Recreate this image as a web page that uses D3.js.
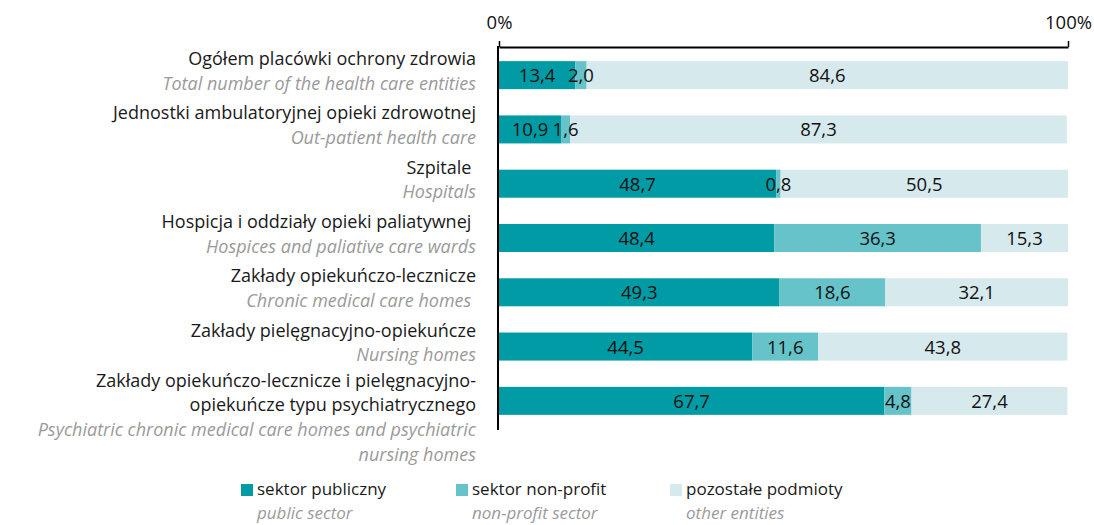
<!DOCTYPE html>
<html lang="pl">
<head>
<meta charset="utf-8">
<title>placówki ochrony zdrowia wg sektora</title>
<script src="https://d3js.org/d3.v7.min.js"></script>
<style>
  body { margin: 0; background: #fff; }
  svg { display: block; font-family: "Open Sans", "Noto Sans", sans-serif; }
  .lab { font-size: 18px; white-space: pre; }
  .pl { fill: #1a1a1a; }
  .en { fill: #9a9a9a; font-style: italic; }
  .val { fill: #111; font-size: 18.5px; }
  .leg { font-size: 17px; }
</style>
</head>
<body>
<script>
// row labels (Polish / English)
const labelsPL = [
  ["Ogółem placówki ochrony zdrowia"],
  ["Jednostki ambulatoryjnej opieki zdrowotnej"],
  ["Szpitale "],
  ["Hospicja i oddziały opieki paliatywnej "],
  ["Zakłady opiekuńczo-lecznicze"],
  ["Zakłady pielęgnacyjno-opiekuńcze"],
  ["Zakłady opiekuńczo-lecznicze i pielęgnacyjno-", "opiekuńcze typu psychiatrycznego"]
];
const labelsEN = [
  ["Total number of the health care entities"],
  ["Out-patient health care"],
  ["Hospitals"],
  ["Hospices and paliative care wards"],
  ["Chronic medical care homes "],
  ["Nursing homes"],
  ["Psychiatric chronic medical care homes and psychiatric", "nursing homes"]
];
const categories = labelsPL.map((d, i) => "c" + i);

// shares in %
const publicSector = [13.4, 10.9, 48.7, 48.4, 49.3, 44.5, 67.7];
const nonProfit    = [2.0, 1.6, 0.8, 36.3, 18.6, 11.6, 4.8];
const otherEnt     = [84.6, 87.3, 50.5, 15.3, 32.1, 43.8, 27.4];

const seriesKeys = ["pub", "np", "oth"];
const seriesPL = ["sektor publiczny", "sektor non-profit", "pozostałe podmioty"];
const seriesEN = ["public sector", "non-profit sector", "other entities"];
const colors = ["#009ba4", "#65c3c9", "#d6e9ed"];
const axisTicks = [0, 100];

const W = 1094, H = 525;
const svg = d3.select("body").append("svg").attr("width", W).attr("height", H);

const x = d3.scaleLinear().domain([0, 100]).range([499, 1068]);
const y = d3.scaleBand().domain(categories).range([48, 428])
  .paddingInner(0.484).paddingOuter(0.242);
const color = d3.scaleOrdinal().domain(seriesKeys).range(colors);

const rows = categories.map((c, i) => ({ cat: c, pub: publicSector[i], np: nonProfit[i], oth: otherEnt[i] }));
const stacked = d3.stack().keys(seriesKeys)(rows);

// bars
const layer = svg.append("g").selectAll("g").data(stacked).join("g")
  .attr("fill", d => color(d.key));
layer.selectAll("rect").data(d => d).join("rect")
  .attr("x", d => x(d[0]))
  .attr("y", d => y(d.data.cat))
  .attr("width", d => x(d[1]) - x(d[0]))
  .attr("height", y.bandwidth());

// values
const fmt = v => d3.format(".1f")(v).replace(".", ",");
const vals = svg.append("g");
stacked.forEach(s => {
  vals.selectAll(null).data(s).join("text")
    .attr("class", "val")
    .attr("text-anchor", "middle")
    .attr("x", d => (x(d[0]) + x(d[1])) / 2)
    .attr("y", d => y(d.data.cat) + y.bandwidth() / 2 + 7)
    .text(d => fmt(d[1] - d[0]));
});

// top axis
const xAxis = d3.axisTop(x).tickValues(axisTicks).tickFormat(d => d + "%")
  .tickSize(6).tickSizeOuter(0).tickPadding(12);
const gx = svg.append("g").attr("transform", "translate(0,47)").call(xAxis);
gx.select(".domain").attr("stroke", "#000").attr("stroke-width", 2);
gx.selectAll(".tick line").attr("stroke", "#000").attr("stroke-width", 1.5);
gx.selectAll(".tick text").attr("font-size", 18.5).attr("font-family", "Open Sans").attr("fill", "#111");

// left axis line
const yAxis = d3.axisLeft(y).tickSize(0).tickFormat("");
const gy = svg.append("g").attr("transform", "translate(498,0)").call(yAxis);
gy.select(".domain").attr("stroke", "#000").attr("stroke-width", 2)
  .attr("d", "M0,46V430");

// category labels: one text per row, lines as tspans
const lab = svg.append("g").attr("text-anchor", "end");
categories.forEach((c, i) => {
  const cy = y(c) + y.bandwidth() / 2;
  const lines = labelsPL[i].map(t => ({ t, cls: "pl" }))
    .concat(labelsEN[i].map(t => ({ t, cls: "en" })));
  const start = lines.length > 2 ? cy - 14 : cy - 10;
  const step = 24.6;
  lab.append("text").attr("class", "lab")
    .selectAll("tspan").data(lines).join("tspan")
    .attr("class", d => d.cls)
    .attr("x", 476)
    .attr("y", (d, j) => start + j * step)
    .text(d => d.t);
});

// legend
const legX = [241, 456, 670];
const leg = svg.append("g").selectAll("g").data(seriesKeys).join("g")
  .attr("transform", (d, i) => `translate(${legX[i]},0)`);
leg.append("rect").attr("y", 484).attr("width", 12).attr("height", 12)
  .attr("fill", d => color(d));
const legText = leg.append("text").attr("class", "leg");
legText.append("tspan").attr("class", "pl").attr("x", 16).attr("y", 495)
  .text((d, i) => seriesPL[i]);
legText.append("tspan").attr("class", "en").attr("x", 16).attr("y", 518.5)
  .text((d, i) => seriesEN[i]);
</script>
</body>
</html>
